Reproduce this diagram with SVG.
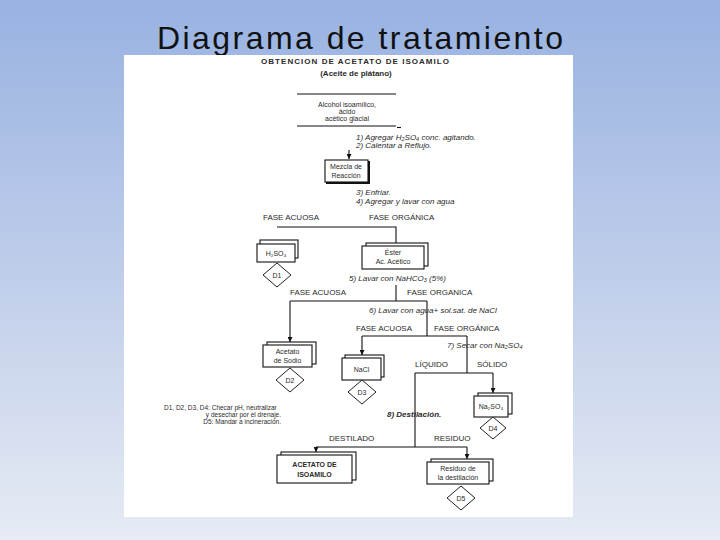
<svg xmlns="http://www.w3.org/2000/svg" width="720" height="540" viewBox="0 0 720 540">
<defs>
<linearGradient id="bg" x1="0" y1="0" x2="0" y2="1">
<stop offset="0" stop-color="#98b2e1"/>
<stop offset="0.5" stop-color="#bfcdea"/>
<stop offset="1" stop-color="#e6ebf4"/>
</linearGradient>
<marker id="arr" viewBox="0 0 10 10" refX="10" refY="5" markerWidth="5" markerHeight="5" orient="auto" markerUnits="userSpaceOnUse">
<path d="M0,0 L10,5 L0,10 z" fill="#111"/>
</marker>
<style>
.t{font-family:"Liberation Sans",Arial,sans-serif;fill:#2a2a2a}
.lbl{font-size:8px}
.it{font-size:8px;font-style:italic}
.nt{font-size:7px;text-anchor:middle}
.b{font-weight:bold}
.ln{stroke:#111;stroke-width:1.1;fill:none}
.box{fill:#fff;stroke:#111;stroke-width:1.1}
.sh{stroke:#111;stroke-width:2;fill:none}
.dia{fill:#fff;stroke:#222;stroke-width:1}
</style>
</defs>
<rect x="0" y="0" width="720" height="540" fill="url(#bg)"/>
<text x="360" y="49" text-anchor="middle" font-family="Liberation Sans,Arial,sans-serif" font-size="32" fill="#111" textLength="406" lengthAdjust="spacing">Diagrama de tratamiento</text>
<rect x="124" y="55" width="449" height="462" fill="#fff"/>

<g id="title">
<text class="t b" x="261" y="64" font-size="8" textLength="188" lengthAdjust="spacing">OBTENCION DE ACETATO DE ISOAMILO</text>
<text class="t b" x="356" y="76" font-size="8" text-anchor="middle">(Aceite de plátano)</text>
</g>

<g id="reactivos">
<line class="ln" x1="297" y1="94" x2="396" y2="94"/>
<text class="t nt" x="347" y="107">Alcohol isoamílico,</text>
<text class="t nt" x="347" y="114">ácido</text>
<text class="t nt" x="347" y="121">acético glacial</text>
<line class="ln" x1="297" y1="126" x2="396" y2="126"/>
<line class="ln" x1="397" y1="127.5" x2="401" y2="127.5"/>
</g>

<g id="mezcla">
<rect class="box" x="325" y="160" width="43" height="22"/>
<path class="sh" d="M369,161 V183 H326"/>
<text class="t nt" x="346" y="168.5">Mezcla de</text>
<text class="t nt" x="346" y="177.5">Reacción</text>
</g>

<g id="h2so4">
<rect class="box" x="260" y="240" width="38" height="18"/>
<rect class="box" x="257" y="244" width="38" height="18"/>
<text class="t nt" x="276" y="256">H₂SO₄</text>
</g>
<g id="d1"><polygon class="dia" points="277,263 291,275 277,287 263,275"/><text class="t nt" x="277" y="278">D1</text></g>

<g id="ester">
<rect class="box" x="366" y="243" width="62" height="23"/>
<rect class="box" x="362" y="246" width="62" height="23"/>
<text class="t nt" x="393" y="255">Éster</text>
<text class="t nt" x="393" y="264">Ac. Acético</text>
</g>

<g id="acetato-sodio">
<rect class="box" x="267" y="342" width="49" height="22"/>
<rect class="box" x="263" y="345" width="49" height="22"/>
<text class="t nt" x="287.5" y="354">Acetato</text>
<text class="t nt" x="287.5" y="363">de Sodio</text>
</g>
<g id="d2"><polygon class="dia" points="290,368 304,380 290,392 276,380"/><text class="t nt" x="290" y="383">D2</text></g>

<g id="nacl">
<rect class="box" x="345" y="355" width="39" height="22"/>
<rect class="box" x="342" y="358" width="39" height="22"/>
<text class="t nt" x="361.5" y="372">NaCl</text>
</g>
<g id="d3"><polygon class="dia" points="362,380 376,392 362,404 348,392"/><text class="t nt" x="362" y="395">D3</text></g>

<g id="na2so4">
<rect class="box" x="478" y="393" width="34" height="21"/>
<rect class="box" x="474" y="396" width="34" height="21"/>
<text class="t nt" x="491" y="409">Na₂SO₄</text>
</g>
<g id="d4"><polygon class="dia" points="493,417 506,428 493,439 480,428"/><text class="t nt" x="493" y="431">D4</text></g>

<g id="acetato-isoamilo">
<rect class="box" x="281" y="452" width="75" height="28"/>
<rect class="box" x="277" y="455" width="75" height="28"/>
<text class="t nt b" x="314.5" y="467" font-size="7.5">ACETATO DE</text>
<text class="t nt b" x="314.5" y="477" font-size="7.5">ISOAMILO</text>
</g>

<g id="residuo">
<rect class="box" x="431" y="459" width="62" height="22"/>
<rect class="box" x="427" y="462" width="62" height="22"/>
<text class="t nt" x="458" y="471">Residuo de</text>
<text class="t nt" x="458" y="480">la destilación</text>
</g>
<g id="d5"><polygon class="dia" points="461,486 475,498 461,510 447,498"/><text class="t nt" x="461" y="501">D5</text></g>

<g id="connectors">
<line class="ln" x1="349" y1="150" x2="349" y2="159" marker-end="url(#arr)"/>
<polyline class="ln" points="277,227 396,227 396,243"/>
<line class="ln" x1="396" y1="285" x2="396" y2="301"/>
<line class="ln" x1="290" y1="301" x2="427" y2="301"/>
<line class="ln" x1="290" y1="301" x2="290" y2="342" marker-end="url(#arr)"/>
<line class="ln" x1="427" y1="301" x2="427" y2="336"/>
<line class="ln" x1="362" y1="336" x2="467" y2="336"/>
<line class="ln" x1="362" y1="336" x2="362" y2="355" marker-end="url(#arr)"/>
<line class="ln" x1="467" y1="336" x2="467" y2="373"/>
<line class="ln" x1="415" y1="373" x2="493" y2="373"/>
<line class="ln" x1="493" y1="373" x2="493" y2="393" marker-end="url(#arr)"/>
<line class="ln" x1="415" y1="373" x2="415" y2="447"/>
<line class="ln" x1="316" y1="447" x2="467" y2="447"/>
<line class="ln" x1="316" y1="447" x2="316" y2="452" marker-end="url(#arr)"/>
<line class="ln" x1="467" y1="447" x2="467" y2="459" marker-end="url(#arr)"/>
</g>

<g id="labels">
<text class="t it" x="356" y="139.5">1) Agregar H₂SO₄ conc. agitando.</text>
<text class="t it" x="356" y="147.5">2) Calentar a Reflujo.</text>
<text class="t it" x="356" y="195" font-size="7.5">3) Enfriar.</text>
<text class="t it" x="356" y="203.5" font-size="7.5">4) Agregar y lavar con agua</text>
<text class="t lbl" x="263" y="220">FASE ACUOSA</text>
<text class="t lbl" x="369" y="220">FASE ORGÁNICA</text>
<text class="t it" x="349" y="280.5">5) Lavar con NaHCO₃ (5%)</text>
<text class="t lbl" x="290" y="295">FASE ACUOSA</text>
<text class="t lbl" x="407" y="295">FASE ORGANICA</text>
<text class="t it" x="369" y="313">6) Lavar con agua+ sol.sat. de NaCl</text>
<text class="t lbl" x="356" y="331">FASE ACUOSA</text>
<text class="t lbl" x="434" y="331">FASE ORGÁNICA</text>
<text class="t it" x="447" y="348">7) Secar con Na₂SO₄</text>
<text class="t lbl" x="415" y="367">LÍQUIDO</text>
<text class="t lbl" x="477" y="367">SÓLIDO</text>
<text class="t it b" x="387" y="417">8) Destilación.</text>
<text class="t lbl" x="329" y="441">DESTILADO</text>
<text class="t lbl" x="434" y="441">RESIDUO</text>
</g>

<g id="nota">
<text class="t" x="164" y="410" font-size="6.5">D1, D2, D3, D4: Checar pH, neutralizar</text>
<text class="t" x="281" y="417" font-size="6.5" text-anchor="end">y desechar por el drenaje.</text>
<text class="t" x="281" y="424" font-size="6.5" text-anchor="end">D5: Mandar a incineración.</text>
</g>
</svg>
